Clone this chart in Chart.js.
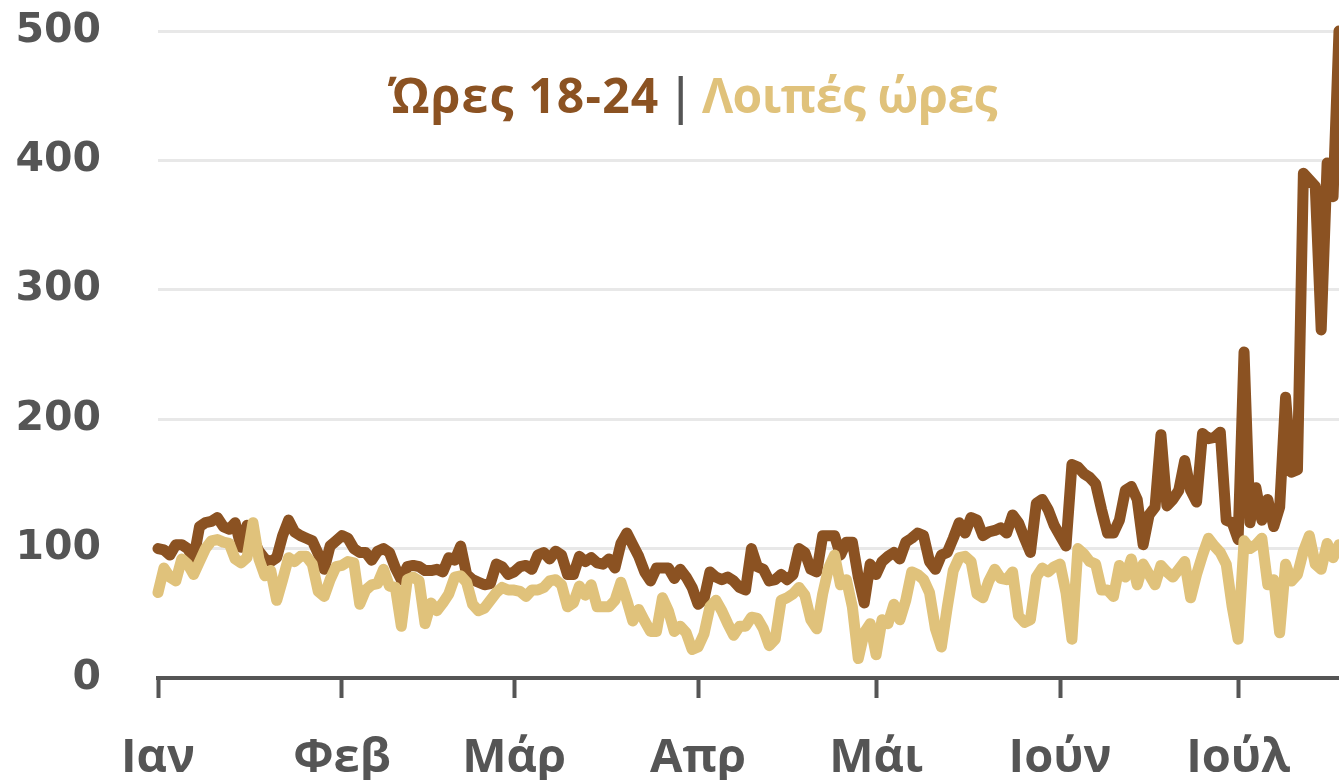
<!DOCTYPE html>
<html>
<head>
<meta charset="utf-8">
<script src="https://cdn.jsdelivr.net/npm/chart.js@4.4.1/dist/chart.umd.min.js"></script>
<style>
  html, body { margin: 0; padding: 0; background: #ffffff; }
  #wrap { position: relative; width: 1339px; height: 780px; }
  #legend {
    position: absolute; left: 388px; top: 62px;
    font-family: "Open Sans", sans-serif; font-weight: 700; font-size: 48px;
    white-space: nowrap; line-height: 65px;
  }
  #legend .a { color: #8b5222; letter-spacing: 1.2px; }
  #legend .sep { color: #555555; font-weight: 600; margin: 0 8px 0 8px; }
  #legend .b { color: #e0c27b; letter-spacing: -0.5px; }
</style>
</head>
<body>
<div id="wrap">
  <canvas id="c" width="1339" height="780"></canvas>
  <div id="legend"><span class="a">Ώρες 18-24</span><span class="sep">|</span><span class="b">Λοιπές ώρες</span></div>
</div>
<script>
// Month tick labels and the day index (from 1 Jan) where each month starts
const monthLabels = ['Ιαν', 'Φεβ', 'Μάρ', 'Απρ', 'Μάι', 'Ιούν', 'Ιούλ'];
const monthStartDays = [0, 31, 60, 91, 121, 152, 182];
const yTickValues = [0, 100, 200, 300, 400, 500];

// Daily values, series "Ώρες 18-24"
const hours18to24 = [
  100, 99, 95, 103, 103, 100, 92, 117, 120, 121, 124, 117, 115, 120, 101, 118, 108, 98, 92, 90,
  93, 110, 122, 113, 110, 108, 106, 96, 84, 102, 106, 110, 108,
  100, 97, 97, 91, 98, 100, 97, 85, 76, 86, 87, 86, 83, 83, 84, 82, 93, 91, 102, 80, 76, 74, 72, 73, 88, 86, 80, 82, 86, 87, 84, 95,
  97, 92, 98, 95, 80, 80, 94, 90, 93, 89, 88, 92, 85, 104, 112, 103, 94, 82, 75, 85, 85, 85, 77, 84, 78, 70, 57, 61, 82, 78, 76, 78,
  75, 70, 68, 100, 86, 84, 75, 76, 80, 76, 80, 100, 97, 84, 82, 110, 110, 110, 95, 105, 105, 78, 58, 88, 80, 90, 94, 97, 92, 105, 108, 112,
  110, 90, 84, 95, 97, 108, 120, 112, 124, 122, 110, 113, 114, 116, 112, 126, 120, 108, 97, 135, 138, 130, 118, 110, 102, 165, 163, 158, 155, 150, 130,
  112, 112, 122, 145, 148, 138, 103, 126, 132, 188, 133, 138, 145, 168, 145, 136, 189, 185, 186, 190,
  122, 120, 107, 252, 120, 147, 122, 138, 117, 132, 217, 159, 161, 390, 385, 380, 269, 398, 372, 500
];

// Daily values, series "Λοιπές ώρες"
const otherHours = [
  66, 85, 78, 75, 92, 88, 80, 90, 100, 106, 107, 105, 104, 92, 89, 93, 120, 92, 79, 83,
  60, 76, 93, 90, 94, 94, 88, 67, 63, 76, 86, 87, 90,
  89, 57, 68, 72, 73, 84, 71, 70, 40, 76, 78, 75, 42, 58, 52, 58, 65, 78, 79, 74, 57, 52, 54, 60, 66, 70, 68, 68, 67, 63, 68, 68,
  70, 75, 76, 72, 55, 58, 71, 64, 72, 55, 55, 55, 60, 74, 60, 44, 53, 44, 36, 36, 62, 52, 36, 40, 35, 22, 24, 34, 55, 60, 52, 42,
  33, 40, 40, 47, 46, 38, 25, 30, 60, 62, 65, 70, 64, 45, 38, 65, 85, 95, 72, 76, 55, 15, 35, 42, 18, 45, 42, 57, 45, 60, 82, 80,
  76, 66, 38, 24, 55, 83, 93, 94, 90, 65, 62, 75, 84, 77, 76, 82, 48, 43, 45, 78, 85, 82, 86, 88, 66, 30, 100, 96, 90, 88, 68,
  68, 63, 87, 78, 92, 72, 88, 80, 72, 87, 82, 78, 84, 90, 62, 80, 95, 108, 102, 97,
  88, 55, 30, 106, 100, 103, 108, 72, 76, 35, 88, 75, 80, 98, 110, 88, 84, 104, 93, 103
];

const toPoints = arr => arr.map((v, i) => ({ x: i, y: v }));

new Chart(document.getElementById('c'), {
  type: 'line',
  data: {
    datasets: [
      {
        label: 'Λοιπές ώρες',
        data: toPoints(otherHours),
        borderColor: '#e0c27b',
        borderWidth: 11,
        pointRadius: 0,
        tension: 0,
        borderJoinStyle: 'round',
        borderCapStyle: 'round',
        clip: false,
        order: 0
      },
      {
        label: 'Ώρες 18-24',
        data: toPoints(hours18to24),
        borderColor: '#8b5222',
        borderWidth: 11,
        pointRadius: 0,
        tension: 0,
        borderJoinStyle: 'round',
        borderCapStyle: 'round',
        clip: false,
        order: 1
      }
    ]
  },
  options: {
    responsive: false,
    animation: false,
    events: [],
    layout: { padding: { top: 31, right: 0, left: 0, bottom: 0 } },
    plugins: { legend: { display: false }, tooltip: { enabled: false }, title: { display: false } },
    scales: {
      x: {
        type: 'linear',
        min: 0,
        max: hours18to24.length - 1,
        afterBuildTicks: s => { s.ticks = monthStartDays.map(v => ({ value: v })); },
        afterFit: s => { s.height = 102; s.paddingLeft = 0; s.paddingRight = 0; },
        border: { display: true, color: '#555555', width: 4 },
        grid: {
          display: true,
          drawOnChartArea: false,
          drawTicks: true,
          tickLength: 20,
          tickColor: '#555555',
          tickWidth: 4
        },
        ticks: {
          autoSkip: false,
          maxRotation: 0,
          padding: 32,
          color: '#555555',
          font: { family: '"Open Sans", sans-serif', weight: 'bold', size: 47 },
          callback: v => { const k = monthStartDays.indexOf(v); return k >= 0 ? monthLabels[k] : ''; }
        }
      },
      y: {
        type: 'linear',
        min: 0,
        max: 500,
        afterBuildTicks: s => { s.ticks = yTickValues.map(v => ({ value: v })); },
        afterFit: s => { s.width = 158; s.paddingTop = 0; s.paddingBottom = 0; },
        border: { display: false },
        grid: { color: '#e8e8e8', lineWidth: 3, drawTicks: false },
        ticks: {
          padding: 57,
          color: '#555555',
          font: { family: '"DejaVu Sans", sans-serif', weight: 'bold', size: 41 }
        }
      }
    }
  }
});
</script>
</body>
</html>
